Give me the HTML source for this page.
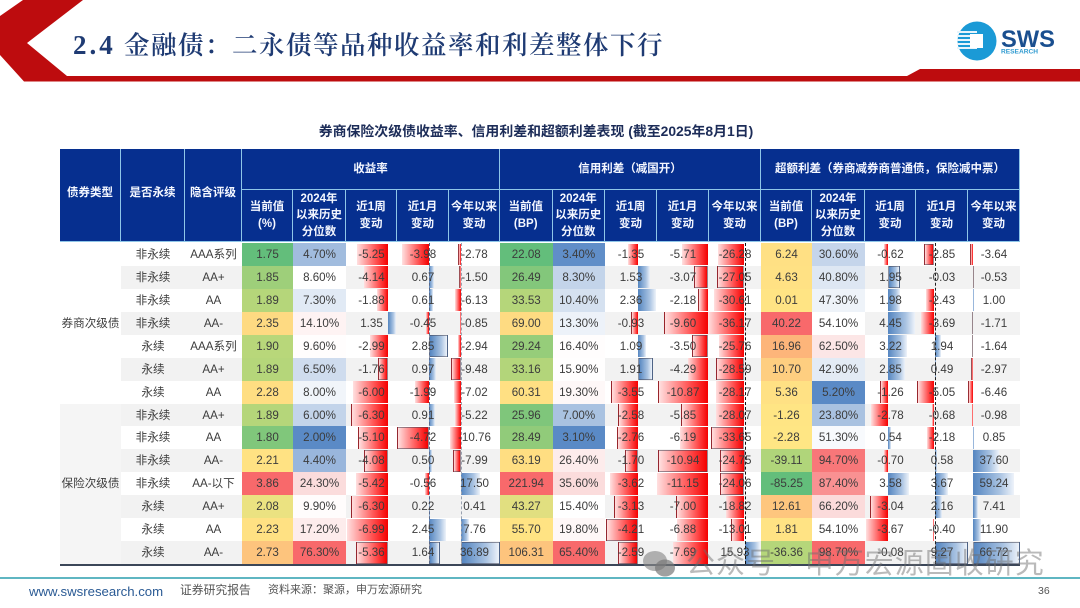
<!DOCTYPE html>
<html lang="zh"><head><meta charset="utf-8"><title>金融债</title>
<style>
html,body{margin:0;padding:0;background:#fff}
#page{position:relative;width:1080px;height:608px;overflow:hidden;background:#fff;font-family:"Liberation Sans","Noto Sans CJK SC",sans-serif}
#page div{position:absolute;box-sizing:border-box}
.hd{background:#062f8f;color:#f4f7ff;font-weight:700;font-size:11.5px;line-height:16.5px;text-align:center;display:flex;align-items:center;justify-content:center;border-right:1px solid #8fc6e8;border-bottom:1px solid #8fc6e8;white-space:pre-line}
.txt{font-size:11.6px;color:#3c3c3c;text-align:center;line-height:23px;height:23px;white-space:nowrap}
</style></head><body>
<div id="page">
<svg style="position:absolute;left:0;top:0" width="1080" height="90">
<polygon points="23,0 83,0 27,43 67,76 907,76 920,69 1080,69 1080,81.5 24,81.5 0,55 0,16" fill="#bd0c0e"/>
</svg>
<div style="left:73px;top:27px;font-size:25.5px;letter-spacing:1.5px;line-height:36px;color:#1f3b73;font-weight:600;font-family:'Liberation Serif','Noto Serif CJK SC',serif;white-space:nowrap"><span style="display:inline-block;width:51px;font-size:27px;letter-spacing:3px">2.4</span>金融债&#xFF1A;二永债等品种收益率和利差整体下行</div>
<svg style="position:absolute;left:955px;top:18px" width="105" height="46">
<circle cx="22" cy="23" r="19.5" fill="#1b9ad6"/>
<rect x="2" y="13" width="20" height="2" fill="#e8f4fb"/><rect x="2" y="17" width="16" height="2" fill="#e8f4fb"/><rect x="2" y="21" width="15" height="2" fill="#e8f4fb"/><rect x="2" y="25" width="16" height="2" fill="#e8f4fb"/><rect x="2" y="29" width="20" height="2" fill="#e8f4fb"/>
<rect x="15" y="16" width="13" height="14" fill="#fff"/>
<text x="46" y="29" font-family="Liberation Sans" font-weight="700" font-size="23.7" fill="#1a4f8f">SWS</text>
<text x="46" y="35.5" font-family="Liberation Sans" font-weight="700" font-size="6.6" fill="#2f9ad0">RESEARCH</text>
</svg>
<div style="left:60px;width:952px;top:122px;text-align:center;font-size:13.9px;font-weight:700;line-height:18px;color:#1c2c58;white-space:nowrap">券商保险次级债收益率、信用利差和超额利差表现 (截至2025年8月1日)</div>
<div id="table" style="left:0;top:0;width:1080px;height:608px;filter:blur(.3px)"></div>
<div style="left:60px;top:564px;width:960px;height:1.5px;background:#3b4658"></div>
<svg style="position:absolute;left:636px;top:548px" width="50" height="34">
<ellipse cx="19" cy="13" rx="12" ry="10" fill="#8a8a8a" opacity=".65"/><ellipse cx="29" cy="20" rx="10" ry="8.5" fill="#777" opacity=".7"/>
</svg>
<div style="left:686px;top:546px;font-size:29px;line-height:36px;letter-spacing:1px;color:rgba(110,110,110,.48);white-space:nowrap">公众号 · 申万宏源固收研究</div>
<div style="left:0;top:577px;width:1080px;height:2px;background:#5fb6c2"></div>
<div style="left:29px;top:583px;font-size:13.2px;line-height:18px;color:#2a5a94;white-space:nowrap">www.swsresearch.com</div>
<div style="left:180px;top:581px;font-size:11.8px;line-height:18px;color:#555;white-space:nowrap">证券研究报告</div>
<div style="left:268px;top:581px;font-size:11px;line-height:18px;color:#555;white-space:nowrap">资料来源&#xFF1A;聚源&#xFF0C;申万宏源研究</div>
<div style="left:1038px;top:582px;font-size:10.5px;line-height:18px;color:#555">36</div>
</div>
<script>
const perpetual = ['非永续','非永续','非永续','非永续','永续','永续','永续','非永续','非永续','非永续','非永续','永续','永续','永续'];
const ratings = ['AAA系列','AA+','AA','AA-','AAA系列','AA+','AA','AA+','AA','AA-','AA-以下','AA+','AA','AA-'];
const yieldCur = ['1.75','1.85','1.89','2.35','1.90','1.89','2.28','1.89','1.80','2.21','3.86','2.08','2.23','2.73'];
const yieldPct = ['4.70','8.60','7.30','14.10','9.60','6.50','8.00','6.00','2.00','4.40','24.30','9.90','17.20','76.30'];
const yieldWeek = ['-5.25','-4.14','-1.88','1.35','-2.99','-1.76','-6.00','-6.30','-5.10','-4.08','-5.42','-6.30','-6.99','-5.36'];
const yieldMonth = ['-3.98','0.67','0.61','-0.45','2.85','0.97','-1.99','0.91','-4.72','0.50','-0.56','0.22','2.45','1.64'];
const yieldYtd = ['-2.78','-1.50','-6.13','-0.85','-2.94','-9.48','-7.02','-5.22','-10.76','-7.99','17.50','0.41','7.76','36.89'];
const creditCur = ['22.08','26.49','33.53','69.00','29.24','33.16','60.31','25.96','28.49','63.19','221.94','43.27','55.70','106.31'];
const creditPct = ['3.40','8.30','10.40','13.30','16.40','15.90','19.30','7.00','3.10','26.40','35.60','15.40','19.80','65.40'];
const creditWeek = ['-1.35','1.53','2.36','-0.93','1.09','1.91','-3.55','-2.58','-2.76','-1.70','-3.62','-3.13','-4.21','-2.59'];
const creditMonth = ['-5.71','-3.07','-2.18','-9.60','-3.50','-4.29','-10.87','-5.85','-6.19','-10.94','-11.15','-7.00','-6.88','-7.69'];
const creditYtd = ['-26.28','-27.05','-30.61','-36.17','-25.76','-28.59','-28.17','-28.07','-33.65','-24.75','-24.06','-18.82','-13.01','15.93'];
const excessCur = ['6.24','4.63','0.01','40.22','16.96','10.70','5.36','-1.26','-2.28','-39.11','-85.25','12.61','1.81','-36.36'];
const excessPct = ['30.60','40.80','47.30','54.10','62.50','42.90','5.20','23.80','51.30','94.70','87.40','66.20','54.10','98.70'];
const excessWeek = ['-0.62','1.95','1.98','4.45','3.22','2.85','-1.26','-2.78','0.54','-0.70','3.58','-3.04','-3.67','-0.08'];
const excessMonth = ['-2.85','-0.03','-2.43','-3.69','1.94','0.49','-5.05','-0.68','-2.18','0.58','3.67','2.16','-0.40','9.27'];
const excessYtd = ['-3.64','-0.53','1.00','-1.71','-1.64','-2.97','-6.46','-0.98','0.85','37.60','59.24','7.41','11.90','66.72'];

const table = document.getElementById('table');
const ROW0 = 243, ROWH = 22.93;
const rowY = i => ROW0 + i * ROWH;
const lerpHex = (a, b, t) => {
  const pa = a.match(/\w\w/g).map(h => parseInt(h, 16));
  const pb = b.match(/\w\w/g).map(h => parseInt(h, 16));
  return 'rgb(' + pa.map((c, j) => Math.round(c + (pb[j] - c) * t)).join(',') + ')';
};
const colorScale = (domain, range) => v => {
  if (v <= domain[0]) return '#' + range[0];
  for (let i = 1; i < domain.length; i++) {
    if (v <= domain[i]) return lerpHex(range[i - 1], range[i], (v - domain[i - 1]) / (domain[i] - domain[i - 1]));
  }
  return '#' + range[range.length - 1];
};
const heatRange = ['63be7b', 'b5d67a', 'ffe684', 'fdc47d', 'f8696b'];
const excessRange = ['63be7b', 'b5d67a', 'ffe684', 'ffe084', 'fdb57a', 'f8696b'];
const pctRange = ['5a8ac6', 'c3d4ea', 'ffffff', 'fbdcdc', 'f8696b'];
const columns = [
  {x0:242,x1:293,vals:yieldCur,kind:'heat',color:colorScale([1.75,1.89,2.15,2.73,3.86],heatRange)},
  {x0:293,x1:346,vals:yieldPct,kind:'pct',color:colorScale([2,6,8.6,24.3,76.3],pctRange)},
  {x0:346,x1:397,vals:yieldWeek,kind:'bar',zero:388,k:5.9,box:[5,9,13],left:[7,8,11]},
  {x0:397,x1:449,vals:yieldMonth,kind:'bar',zero:429,k:6.8,box:[4,8,13],left:[],axis:'#5a6a8a'},
  {x0:449,x1:500,vals:yieldYtd,kind:'bar',zero:461,k:1.06,box:[5,9,13],left:[0,1],axis:'#9aa2b0'},
  {x0:500,x1:552.5,vals:creditCur,kind:'heat',color:colorScale([22.08,33.5,50,106.31,221.94],heatRange)},
  {x0:552.5,x1:605,vals:creditPct,kind:'pct',color:colorScale([3.1,8.3,15.4,35.6,65.4],pctRange)},
  {x0:605,x1:657,vals:creditWeek,kind:'bar',zero:638,k:7.7,box:[5,9,13,12],left:[3,6,7,8,11]},
  {x0:657,x1:709,vals:creditMonth,kind:'bar',zero:708,k:4.57,box:[1,4,9],left:[2,3,6,7,11]},
  {x0:709,x1:761,vals:creditYtd,kind:'bar',zero:744.5,k:1,box:[1,5,8,9,10],left:[12],axis:'#111'},
  {x0:761,x1:812,vals:excessCur,kind:'heat',color:colorScale([-85.25,-36.4,-2.3,6.24,16.96,40.22],excessRange)},
  {x0:812,x1:865,vals:excessPct,kind:'pct',color:colorScale([5.2,30,54,66,98.7],pctRange)},
  {x0:865,x1:916,vals:excessWeek,kind:'bar',zero:888,k:6,box:[1],left:[6,11]},
  {x0:916,x1:968,vals:excessMonth,kind:'bar',zero:934.5,k:3.56,box:[0,13],left:[6],axis:'#222'},
  {x0:968,x1:1020,vals:excessYtd,kind:'bar',zero:973,k:.7,box:[13],left:[0,1,3,4,5,6]}
];

// row stripes
perpetual.forEach((p, i) => {
  if (i % 2 === 1) {
    const s = document.createElement('div');
    
    
    s.style.cssText = `left:121px;width:899px;top:${rowY(i)}px;height:${ROWH}px;background:#f2f2f2`;
    table.appendChild(s);
  }
});
const groupBg = document.createElement('div');


groupBg.style.cssText = `left:60px;width:61px;top:${rowY(7)}px;height:${ROWH * 7}px;background:#f5f5f5`;
table.appendChild(groupBg);

// heat cells, bars
columns.forEach(c => {
  c.vals.forEach((val, i) => {
    const v = parseFloat(val);
    if (c.kind !== 'bar') {
      const cell = document.createElement('div');
      
      
      cell.style.cssText = `left:${c.x0}px;width:${c.x1 - c.x0}px;top:${rowY(i)}px;height:${ROWH}px;background:${c.color(v)}`;
      table.appendChild(cell);
    } else {
      const end = c.zero + v * c.k;
      const bar = document.createElement('div');
      
      
      const l = Math.min(end, c.zero), w = Math.abs(end - c.zero);
      const bg = v < 0
        ? 'linear-gradient(to right,#ffe0e0,#ff4a4a 65%,#f40000)'
        : 'linear-gradient(to right,#5485c0,#a9c3e2 65%,#eef3fa)';
      let border = '';
      if (c.box.includes(i)) border = 'border:1px solid rgba(70,70,85,.55);';
      else if (c.left.includes(i) && v < 0) border = 'border-left:1px solid rgba(90,60,70,.6);';
      bar.style.cssText = `left:${l}px;width:${w}px;top:${rowY(i) + .5}px;height:${ROWH - 1}px;background:${bg};${border}`;
      table.appendChild(bar);
    }
  });
  if (c.axis) {
    const ax = document.createElement('div');
    
    
    ax.style.cssText = `left:${c.zero}px;width:0;top:${ROW0}px;height:${ROWH * 14}px;border-left:1px dashed ${c.axis}`;
    table.appendChild(ax);
  }
});

// cell text
columns.forEach(c => {
  c.vals.forEach((val, i) => {
    const t = document.createElement('div');
    
    
    t.className = 'txt';
    t.style.left = c.x0 + 'px';
    t.style.width = (c.x1 - c.x0) + 'px';
    t.style.top = rowY(i) + 'px';
    t.textContent = c.kind === 'pct' ? val + '%' : val;
    table.appendChild(t);
  });
});
perpetual.forEach((p, i) => {
  const a = document.createElement('div');
  
  
  a.className = 'txt';
  a.style.cssText = `left:121px;width:64px;top:${rowY(i)}px`;
  a.textContent = p;
  table.appendChild(a);
  const b = document.createElement('div');
  
  
  b.className = 'txt';
  b.style.cssText = `left:185px;width:57px;top:${rowY(i)}px`;
  b.textContent = ratings[i];
  table.appendChild(b);
});
const brokerLabel = document.createElement('div');


brokerLabel.className = 'txt';
brokerLabel.style.cssText = `left:60px;width:61px;top:${rowY(3)}px`;
brokerLabel.textContent = '券商次级债';
table.appendChild(brokerLabel);
const insurerLabel = document.createElement('div');


insurerLabel.className = 'txt';
insurerLabel.style.cssText = `left:60px;width:61px;top:${rowY(10)}px`;
insurerLabel.textContent = '保险次级债';
table.appendChild(insurerLabel);

// header
const headBlocks = [
  [60,121,149,242,'债券类型'],[121,185,149,242,'是否永续'],[185,242,149,242,'隐含评级'],
  [242,500,149,190,'收益率'],[500,761,149,190,'信用利差\uFF08减国开\uFF09'],[761,1020,149,190,'超额利差\uFF08券商减券商普通债\uFF0C保险减中票\uFF09']
];
const subHeads = [
  ['当前值\n(%)','2024年\n以来历史\n分位数','近1周\n变动','近1月\n变动','今年以来\n变动'],
  ['当前值\n(BP)','2024年\n以来历史\n分位数','近1周\n变动','近1月\n变动','今年以来\n变动'],
  ['当前值\n(BP)','2024年\n以来历史\n分位数','近1周\n变动','近1月\n变动','今年以来\n变动']
];
headBlocks.forEach(h => {
  const d = document.createElement('div');
  
  
  d.className = 'hd';
  d.style.cssText = `left:${h[0]}px;width:${h[1] - h[0]}px;top:${h[2]}px;height:${h[3] - h[2]}px;padding-bottom:${h[3] === 242 ? 4 : 0}px`;
  d.textContent = h[4];
  table.appendChild(d);
});
subHeads.flat().forEach((txt, i) => {
  const c = columns[i];
  const d = document.createElement('div');
  
  
  d.className = 'hd';
  d.style.cssText = `left:${c.x0}px;width:${c.x1 - c.x0}px;top:190px;height:52px`;
  d.textContent = txt;
  table.appendChild(d);
});
</script>
</body></html>
